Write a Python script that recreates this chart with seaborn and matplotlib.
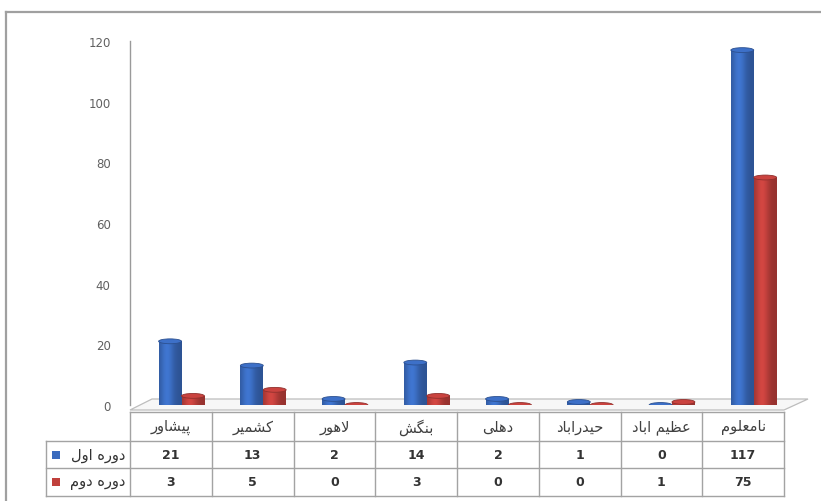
import numpy as np
import pandas as pd
import matplotlib
matplotlib.use("Agg")
import matplotlib.pyplot as plt
import seaborn as sns
from matplotlib.lines import Line2D
from matplotlib.patches import Rectangle, Ellipse, Polygon

# ---------------- data ----------------
categories = ["پیشاور", "کشمیر", "لاهور", "بنگش", "دهلی", "حیدراباد", "عظیم اباد", "نامعلوم"]
series_names = ["دوره اول", "دوره دوم"]
period1 = [21, 13, 2, 14, 2, 1, 0, 117]
period2 = [3, 5, 0, 3, 0, 0, 1, 75]
y_ticks = [0, 20, 40, 60, 80, 100, 120]

colors = ["#3A6BBE", "#C0403C"]

# ------------- minimal Persian shaping -------------
FORMS = {
    'ا': ('\uFE8D', '\uFE8E'), 'آ': ('\uFE81', '\uFE82'),
    'د': ('\uFEA9', '\uFEAA'), 'ر': ('\uFEAD', '\uFEAE'),
    'و': ('\uFEED', '\uFEEE'),
    'ب': ('\uFE8F', '\uFE90', '\uFE91', '\uFE92'),
    'پ': ('\uFB56', '\uFB57', '\uFB58', '\uFB59'),
    'ح': ('\uFEA1', '\uFEA2', '\uFEA3', '\uFEA4'),
    'ش': ('\uFEB5', '\uFEB6', '\uFEB7', '\uFEB8'),
    'ظ': ('\uFEC5', '\uFEC6', '\uFEC7', '\uFEC8'),
    'ع': ('\uFEC9', '\uFECA', '\uFECB', '\uFECC'),
    'ک': ('\uFB8E', '\uFB8F', '\uFB90', '\uFB91'),
    'گ': ('\uFB92', '\uFB93', '\uFB94', '\uFB95'),
    'ل': ('\uFEDD', '\uFEDE', '\uFEDF', '\uFEE0'),
    'م': ('\uFEE1', '\uFEE2', '\uFEE3', '\uFEE4'),
    'ن': ('\uFEE5', '\uFEE6', '\uFEE7', '\uFEE8'),
    'ه': ('\uFEE9', '\uFEEA', '\uFEEB', '\uFEEC'),
    'ی': ('\uFBFC', '\uFBFD', '\uFBFE', '\uFBFF'),
}
LAM_ALEF = {'ا': ('\uFEFB', '\uFEFC'), 'آ': ('\uFEF5', '\uFEF6')}


def dual(c):
    return c in FORMS and len(FORMS[c]) == 4


def shape(s):
    out = []
    i = 0
    n = len(s)
    while i < n:
        c = s[i]
        prev = s[i - 1] if i > 0 else None
        nxt = s[i + 1] if i + 1 < n else None
        if c not in FORMS:
            out.append(c)
            i += 1
            continue
        jp = prev is not None and dual(prev)
        if c == 'ل' and nxt in LAM_ALEF:
            out.append(LAM_ALEF[nxt][1 if jp else 0])
            i += 2
            continue
        jn = dual(c) and nxt is not None and nxt in FORMS
        f = FORMS[c]
        if jp and jn:
            g = f[3]
        elif jp:
            g = f[1]
        elif jn:
            g = f[2]
        else:
            g = f[0]
        out.append(g)
        i += 1
    return ''.join(reversed(out))


# ---------------- figure ----------------
W, H = 821, 502
fig = plt.figure(figsize=(W / 100, H / 100), dpi=100)
fig.patch.set_facecolor("white")


def fx(x):
    return x / W


def fy(y):
    return 1 - y / H


ax_left, ax_right, ax_top, ax_bot = 130, 784, 42, 406
ax = fig.add_axes([fx(ax_left), fy(ax_bot), (ax_right - ax_left) / W, (ax_bot - ax_top) / H])

df = pd.DataFrame({
    "cat": categories * 2,
    "series": [series_names[0]] * len(categories) + [series_names[1]] * len(categories),
    "val": period1 + period2,
})
sns.barplot(data=df, x="cat", y="val", hue="series", order=categories,
            hue_order=series_names, palette=colors, width=0.56, saturation=1,
            legend=False, ax=ax, edgecolor="none", zorder=3)

ax.set_ylim(0, 120)
ax.set_xlim(-0.5 - 0.13, len(categories) - 0.5 - 0.13)
ax.set_yticks(y_ticks)
ax.set_yticklabels([str(t) for t in y_ticks], color="#606060", fontsize=8.5)
ax.tick_params(axis="y", length=0, pad=14)
ax.set_xticks([])
ax.set_xlabel("")
ax.set_ylabel("")
for sp in ["top", "right", "bottom"]:
    ax.spines[sp].set_visible(False)
ax.spines["left"].set_color("#9A9A9A")
ax.spines["left"].set_linewidth(1)
ax.patch.set_alpha(0)

# cylinder-like shading on every bar
grad = np.linspace(0, 1, 64)
shade = np.exp(-((grad - 0.35) / 0.3) ** 2)
bars = [p for p in ax.patches if isinstance(p, Rectangle)]
for p in bars:
    x0, w, h = p.get_x(), p.get_width(), p.get_height()
    base = np.array(matplotlib.colors.to_rgb(p.get_facecolor()))
    img = np.clip(base[None, None, :] * (0.78 + 0.32 * shade[None, :, None]), 0, 1)
    if h > 0:
        im = ax.imshow(img, extent=[x0, x0 + w, 0, h], aspect="auto", zorder=3.5,
                       interpolation="bilinear")
        im.set_clip_path(p)
    cap = Ellipse((x0 + w / 2, h), w, 1.6, facecolor=np.clip(base * 1.05, 0, 1),
                  edgecolor=np.clip(base * 0.75, 0, 1), linewidth=0.6, zorder=4)
    ax.add_patch(cap)
ax.set_xlim(-0.5 - 0.13, len(categories) - 0.5 - 0.13)
ax.set_ylim(0, 120)

# ---------------- decorations (floor, frame, table) ----------------
gray = "#A3A3A3"


def fline(xs, ys, color=gray, lw=1.0, z=1):
    fig.add_artist(Line2D([fx(x) for x in xs], [fy(y) for y in ys],
                          color=color, linewidth=lw, zorder=z))


# floor
floor = Polygon([(fx(130), fy(411)), (fx(152), fy(400)), (fx(808), fy(400)), (fx(784), fy(411))],
                closed=True, transform=fig.transFigure, facecolor="#F7F7F7",
                edgecolor="#BDBDBD", linewidth=0.9, zorder=0)
fig.add_artist(floor)

# outer frame
fline([6, W], [13, 13], color="#A0A0A0", lw=1.6)
fline([6, 6], [13, H], color="#A0A0A0", lw=1.6)

# table
n = len(categories)
col_w = (ax_right - ax_left) / n
rows_y = [413, 442, 469, 497]
fline([ax_left, ax_right], [rows_y[0]] * 2)
for yy in rows_y[1:]:
    fline([46, ax_right], [yy, yy])
fline([46, 46], [rows_y[1], rows_y[3]])
for i in range(n + 1):
    xx = ax_left + col_w * i
    fline([xx, xx], [rows_y[0], rows_y[3]])

txt_font = ["DejaVu Sans"]
for i, c in enumerate(categories):
    cx = ax_left + col_w * (i + 0.5)
    fig.text(fx(cx), fy((rows_y[0] + rows_y[1]) / 2), shape(c), ha="center", va="center",
             fontsize=10.5, color="#404040", family=txt_font)
    fig.text(fx(cx), fy((rows_y[1] + rows_y[2]) / 2), str(period1[i]), ha="center", va="center",
             fontsize=9, color="#333333", fontweight="bold", family=txt_font)
    fig.text(fx(cx), fy((rows_y[2] + rows_y[3]) / 2), str(period2[i]), ha="center", va="center",
             fontsize=9, color="#333333", fontweight="bold", family=txt_font)

for k, name in enumerate(series_names):
    cy = (rows_y[k + 1] + rows_y[k + 2]) / 2
    fig.text(fx(125), fy(cy), shape(name), ha="right", va="center", fontsize=10.5,
             color="#333333", family=txt_font)
    sq = Rectangle((fx(52), fy(cy + 4)), 8 / W, 8 / H, transform=fig.transFigure,
                   facecolor=colors[k], edgecolor="none")
    fig.add_artist(sq)

fig.savefig("out.png", dpi=100, facecolor="white")
